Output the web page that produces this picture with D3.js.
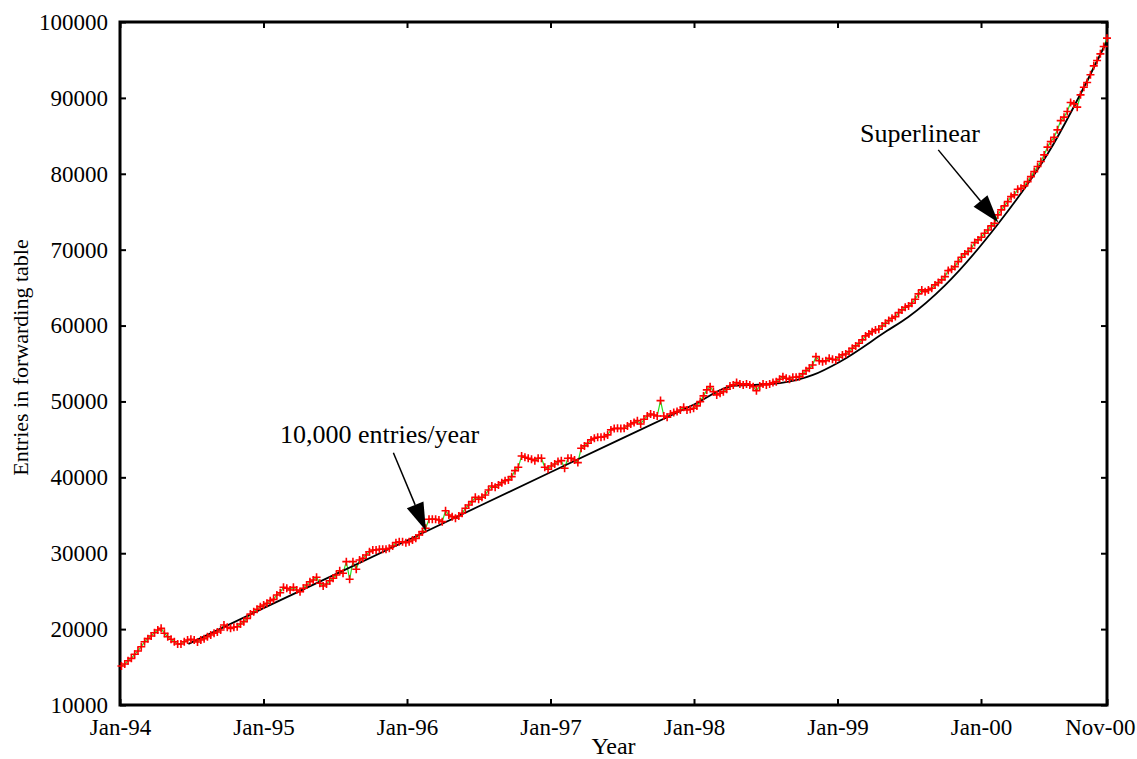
<!DOCTYPE html>
<html>
<head>
<meta charset="utf-8">
<script src="https://cdn.jsdelivr.net/npm/d3@7"></script>
<style>
  body { margin: 0; background: #fff; }
  svg text { font-family: "Liberation Serif", "Times New Roman", serif; fill: #000; }
</style>
</head>
<body>
<div id="svg-container"></div>
<script>
const Width = 1137;
const Height = 759;

// forwarding table size, sampled at regular intervals from early Jan-94 to mid Nov-00
const firstSample = 1994.01;
const lastSample = 2000.878;
const entries = [
  15140, 15400, 15840, 16150, 16680, 17120, 17680, 18340, 18740, 19100,
  19530, 19880, 20100, 19450, 19000, 18660, 18340, 18040, 18040, 18340,
  18570, 18660, 18570, 18300, 18570, 18740, 19000, 19230, 19450, 19620,
  19880, 20540, 20240, 20100, 20240, 20320, 20680, 20980, 21420, 22000,
  22290, 22610, 22960, 23180, 23400, 23750, 23920, 24500, 24800, 25510,
  25380, 25160, 25510, 25160, 24930, 25380, 25820, 26250, 26480, 26830,
  26040, 25680, 25950, 26380, 26700, 27130, 27700, 27360, 28890, 26570,
  28890, 27880, 29110, 29330, 29770, 30200, 30430, 30430, 30520, 30520,
  30520, 30650, 30960, 31390, 31520, 31520, 31390, 31520, 31740, 31960,
  32410, 32840, 33290, 34480, 34480, 34480, 34380, 34160, 35600, 35040,
  34820, 34600, 34910, 35260, 35920, 36360, 36800, 37370, 37110, 37370,
  37680, 38340, 38860, 38690, 39000, 39300, 39560, 39660, 40090, 40880,
  41330, 42820, 42650, 42520, 42380, 42200, 42520, 42520, 41330, 41060,
  41500, 41760, 42070, 42200, 41200, 42520, 42520, 42290, 41940, 43830,
  44140, 44490, 44930, 45150, 45280, 45280, 45370, 45590, 46250, 46420,
  46470, 46420, 46470, 46770, 47030, 47210, 47470, 47030, 47650, 48090,
  48350, 48220, 48090, 50110, 48090, 47920, 48350, 48530, 48660, 48880,
  49240, 48880, 48970, 49100, 49410, 49980, 50730, 51520, 51950, 51290,
  50860, 51080, 51290, 51610, 52040, 52180, 52480, 52310, 52180, 52310,
  52180, 51950, 51420, 52040, 52310, 52180, 52310, 52480, 52610, 52930,
  53270, 53060, 52930, 53190, 53190, 53270, 53630, 54060, 54370, 54810,
  55900, 55370, 55240, 55370, 55690, 55560, 55470, 55820, 56130, 56260,
  56570, 57010, 57320, 57670, 58110, 58640, 58900, 59200, 59430, 59520,
  59950, 60310, 60650, 60970, 61180, 61710, 62060, 62420, 62590, 62940,
  63470, 64170, 64700, 64470, 64700, 64920, 65360, 65660, 66020, 66450,
  67240, 67420, 67770, 68430, 69010, 69440, 69750, 70190, 70930, 71290,
  71640, 72170, 72600, 73130, 73480, 74580, 75240, 75770, 76330, 76990,
  77220, 77970, 78100, 78400, 78970, 79630, 80290, 80950, 81610, 82490,
  83510, 84240, 84820, 85790, 87010, 87460, 88200, 89390, 89210, 88780,
  90400, 91410, 92020, 93040, 94220, 94920, 95800, 96770, 97870
];

// fitted trend: linear (10,000 entries/year), a flat stretch, then superlinear
const fitYears  = [1994.476, 1995.0, 1996.0, 1997.0, 1998.0, 1998.272, 1998.45, 1998.599, 1998.829, 1999.017, 1999.345, 1999.491, 1999.749, 2000.121, 2000.467, 2000.878];
const fitValues = [18040,    22760,  31680,  40670,  49600,  52040,    52200,   52400,    53490,    55240,    59300,    61100,    65300,    73450,    82700,    97500];

const tickYears  = [1994, 1995, 1996, 1997, 1998, 1999, 2000, 2000.878];
const tickLabels = ["Jan-94", "Jan-95", "Jan-96", "Jan-97", "Jan-98", "Jan-99", "Jan-00", "Nov-00"];
const yTicks = [10000, 20000, 30000, 40000, 50000, 60000, 70000, 80000, 90000, 100000];

const annotations = [
  { text: "10,000 entries/year", tx: 1995.115, ty: 44530, from: [1995.905, 43250], to: [1996.132, 32970] },
  { text: "Superlinear", tx: 1999.157, ty: 84200, from: [1999.702, 83150], to: [2000.121, 73570] }
];

const margin = { left: 120, right: 30, top: 22, bottom: 54 };

const svg = d3.select("#svg-container").append("svg").attr("width", Width).attr("height", Height);

const x = d3.scaleLinear().domain([1994, 2000.878]).range([margin.left, Width - margin.right]);
const y = d3.scaleLinear().domain([10000, 100000]).range([Height - margin.bottom, margin.top]);

const step = (lastSample - firstSample) / (entries.length - 1);
const points = entries.map((v, i) => ({ t: firstSample + i * step, v }));

// axes: ticks inward on all four sides
const tickLen = 6;
svg.append("g")
    .attr("transform", `translate(0,${y.range()[0]})`)
    .call(d3.axisBottom(x).tickValues(tickYears).tickSize(-tickLen).tickPadding(14)
        .tickFormat((d, i) => tickLabels[i]))
    .call(g => g.select(".domain").remove())
    .call(g => g.selectAll("text").attr("font-size", 23).attr("dy", "0.71em"))
    // last label sits at the frame edge, keep it inside the page
    .call(g => g.selectAll("text").filter((d, i) => i === tickYears.length - 1)
        .attr("text-anchor", "end").attr("dx", Width - 2 - x(lastSample)));
svg.append("g")
    .attr("transform", `translate(0,${y.range()[1]})`)
    .call(d3.axisTop(x).tickValues(tickYears).tickSize(-tickLen).tickFormat(""))
    .call(g => g.select(".domain").remove());
svg.append("g")
    .attr("transform", `translate(${x.range()[0]},0)`)
    .call(d3.axisLeft(y).tickValues(yTicks).tickSize(-tickLen).tickPadding(12).tickFormat(d3.format("d")))
    .call(g => g.select(".domain").remove())
    .call(g => g.selectAll("text").attr("font-size", 23));
svg.append("g")
    .attr("transform", `translate(${x.range()[1]},0)`)
    .call(d3.axisRight(y).tickValues(yTicks).tickSize(-tickLen).tickFormat(""))
    .call(g => g.select(".domain").remove());
svg.selectAll(".tick line").attr("stroke", "#000").attr("stroke-width", 2);

// frame
svg.append("rect")
    .attr("x", x.range()[0]).attr("y", y.range()[1])
    .attr("width", x.range()[1] - x.range()[0]).attr("height", y.range()[0] - y.range()[1])
    .attr("fill", "none").attr("stroke", "#000").attr("stroke-width", 3);

// data line (green) with red + markers
const line = d3.line().x(d => x(d.t)).y(d => y(d.v));
svg.append("path")
    .attr("d", line(points))
    .attr("fill", "none")
    .attr("stroke", "#22e022")
    .attr("stroke-width", 1.2);

const fitPts = fitYears.map((t, i) => ({ t, v: fitValues[i] }));
svg.append("path")
    .attr("d", d3.line().x(d => x(d.t)).y(d => y(d.v)).curve(d3.curveMonotoneX)(fitPts))
    .attr("fill", "none")
    .attr("stroke", "#000")
    .attr("stroke-width", 1.8);

const s = 4;
svg.append("g").selectAll("path")
    .data(points)
    .join("path")
    .attr("d", d => `M${x(d.t) - s},${y(d.v)}h${2 * s}M${x(d.t)},${y(d.v) - s}v${2 * s}`)
    .attr("stroke", "#ff0000")
    .attr("stroke-width", 1.6);

// annotations with filled arrowheads
annotations.forEach(a => {
    const x0 = x(a.from[0]), y0 = y(a.from[1]);
    const x1 = x(a.to[0]), y1 = y(a.to[1]);
    const ang = Math.atan2(y1 - y0, x1 - x0);
    const headLen = 28, headW = 9;
    const bx = x1 - headLen * Math.cos(ang), by = y1 - headLen * Math.sin(ang);
    svg.append("line")
        .attr("x1", x0).attr("y1", y0).attr("x2", bx).attr("y2", by)
        .attr("stroke", "#000").attr("stroke-width", 1.5);
    svg.append("path")
        .attr("d", `M${x1},${y1}L${bx - headW * Math.sin(ang)},${by + headW * Math.cos(ang)}L${bx + headW * Math.sin(ang)},${by - headW * Math.cos(ang)}Z`)
        .attr("fill", "#000");
    svg.append("text")
        .attr("x", x(a.tx)).attr("y", y(a.ty))
        .attr("font-size", 26)
        .text(a.text);
});

// axis titles
svg.append("text")
    .attr("x", (x.range()[0] + x.range()[1]) / 2)
    .attr("y", 754)
    .attr("text-anchor", "middle")
    .attr("font-size", 24)
    .text("Year");
svg.append("text")
    .attr("transform", `translate(28,${(y.range()[0] + y.range()[1]) / 2 - 6}) rotate(-90)`)
    .attr("text-anchor", "middle")
    .attr("font-size", 22)
    .text("Entries in forwarding table");
</script>
</body>
</html>
